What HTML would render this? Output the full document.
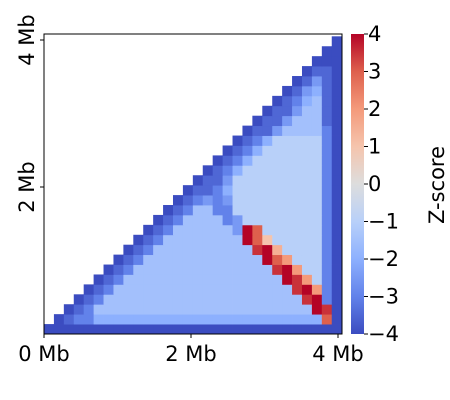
<!DOCTYPE html>
<html><head><meta charset="utf-8"><style>
html,body{margin:0;padding:0;background:#fff;}
svg{display:block;font-family:"DejaVu Sans","Liberation Sans",sans-serif;}
</style></head><body>
<svg id="chart" width="450" height="400" viewBox="0 0 450 400" xmlns="http://www.w3.org/2000/svg">
<defs>
<linearGradient id="cmap" x1="0" y1="1" x2="0" y2="0">
<stop offset="0" stop-color="rgb(59,76,192)"/><stop offset="0.125" stop-color="rgb(98,130,234)"/>
<stop offset="0.25" stop-color="rgb(141,176,254)"/><stop offset="0.375" stop-color="rgb(184,208,249)"/>
<stop offset="0.5" stop-color="rgb(221,221,221)"/><stop offset="0.625" stop-color="rgb(245,196,173)"/>
<stop offset="0.75" stop-color="rgb(244,154,123)"/><stop offset="0.875" stop-color="rgb(222,96,77)"/>
<stop offset="1" stop-color="rgb(180,4,38)"/>
</linearGradient>
</defs>
<g id="cells"></g>
<rect x="44" y="34" width="298" height="300" fill="none" stroke="#000" stroke-width="1"/>
<g id="axes"></g>
<rect x="351" y="34" width="13" height="300" fill="url(#cmap)"/>
<g id="cbar"></g>
<text x="438" y="185" font-size="21" text-anchor="middle" transform="rotate(-90 438 185)" dominant-baseline="middle">Z-score</text>
</svg>
<script>
// Z-score matrix, run-length encoded: row i = genomic y bin from bottom, runs cover columns j=i..29
// char index in alphabet -> value idx/2 - 4
const alphabet = "0123456789ABCDEFG";
const nBins = 30;
const binMb = 4.05 / 30;
const matrixRuns = [
[["0",30]],
[["0",1],["1",1],["2",2],["4",23],["E",1],["0",1]],
[["0",1],["1",1],["2",1],["5",22],["G",1],["F",1],["0",1]],
[["0",1],["1",1],["2",1],["5",20],["F",1],["G",1],["2",1],["0",1]],
[["0",1],["1",1],["2",1],["5",18],["F",1],["G",1],["C",1],["2",1],["0",1]],
[["0",1],["1",1],["2",1],["5",16],["G",1],["F",1],["C",1],["6",1],["2",1],["0",1]],
[["0",1],["1",1],["2",1],["5",14],["F",1],["G",1],["C",1],["6",2],["2",1],["0",1]],
[["0",1],["1",1],["2",1],["5",12],["G",1],["E",1],["C",1],["6",3],["2",1],["0",1]],
[["0",1],["1",1],["2",1],["5",10],["F",1],["G",1],["B",1],["6",4],["2",1],["0",1]],
[["0",1],["1",1],["2",1],["5",8],["G",1],["E",1],["A",1],["6",5],["2",1],["0",1]],
[["0",1],["1",1],["2",1],["5",6],["3",1],["G",1],["E",1],["6",6],["2",1],["0",1]],
[["0",1],["1",1],["2",1],["5",4],["2",1],["3",1],["6",8],["2",1],["0",1]],
[["0",1],["1",1],["2",1],["5",2],["2",2],["6",9],["2",1],["0",1]],
[["0",1],["1",1],["2",1],["3",1],["2",1],["3",1],["6",9],["2",1],["0",1]],
[["0",1],["1",2],["2",1],["4",1],["6",9],["2",1],["0",1]],
[["0",1],["1",2],["3",1],["6",9],["2",1],["0",1]],
[["0",1],["1",1],["2",1],["4",1],["6",8],["2",1],["0",1]],
[["0",1],["1",1],["2",1],["4",1],["6",7],["2",1],["0",1]],
[["0",1],["1",1],["2",1],["4",1],["6",6],["2",1],["0",1]],
[["0",1],["1",1],["2",1],["4",1],["6",5],["2",1],["0",1]],
[["0",1],["1",2],["3",1],["5",4],["2",1],["0",1]],
[["0",1],["1",2],["3",1],["5",3],["1",1],["0",1]],
[["0",1],["1",2],["3",1],["5",2],["1",1],["0",1]],
[["0",1],["1",1],["2",1],["4",1],["5",1],["1",1],["0",1]],
[["0",1],["1",1],["3",1],["4",1],["1",1],["0",1]],
[["0",1],["1",1],["3",1],["1",1],["0",1]],
[["0",1],["1",2],["0",1]],
[["0",3]],
[["0",2]],
[["0",1]]
];
const xTicks = [0, 2, 4];
const yTicks = [2, 4];
const xTickLabels = ["0 Mb", "2 Mb", "4 Mb"];
const yTickLabels = ["2 Mb", "4 Mb"];
const cbarTicks = [4, 3, 2, 1, 0, -1, -2, -3, -4];

const NS = "http://www.w3.org/2000/svg";
const x0 = 44, y0 = 334, pxPerMb = 73.5;
const xScale = mb => x0 + mb * pxPerMb;
const yScale = mb => y0 - mb * pxPerMb;
const zScale = z => 334 - (z + 4) / 8 * 300;
const stops = [[59,76,192],[98,130,234],[141,176,254],[184,208,249],[221,221,221],[245,196,173],[244,154,123],[222,96,77],[180,4,38]];
function color(z){
  let t = Math.max(0, Math.min(1, (z + 4) / 8)) * 8;
  let k = Math.min(7, Math.floor(t)), f = t - k;
  const a = stops[k], b = stops[k+1];
  return "rgb(" + a.map((v,m)=>Math.round(v + (b[m]-v)*f)).join(",") + ")";
}
const cells = document.getElementById("cells");
matrixRuns.forEach((runs, i) => {
  let j = i;
  runs.forEach(([ch, n]) => {
    for (let q = 0; q < n; q++, j++) {
      if (j >= nBins) return;
      const z = alphabet.indexOf(ch) / 2 - 4;
      const r = document.createElementNS(NS, "rect");
      const xa = xScale(j * binMb), xb = xScale((j + 1) * binMb);
      const ya = yScale((i + 1) * binMb), yb = yScale(i * binMb);
      r.setAttribute("x", xa.toFixed(2));
      r.setAttribute("y", ya.toFixed(2));
      r.setAttribute("width", (xb - xa + 0.4).toFixed(2));
      r.setAttribute("height", (yb - ya + 0.4).toFixed(2));
      r.setAttribute("fill", color(z));
      
      
      cells.appendChild(r);
    }
  });
});
const axes = document.getElementById("axes");
function add(tag, attrs, text){
  const e = document.createElementNS(NS, tag);
  for (const k in attrs) e.setAttribute(k, attrs[k]);
  if (text !== undefined) e.textContent = text;
  axes.appendChild(e); return e;
}
xTicks.forEach((v, k) => {
  const x = xScale(v);
  const t = add("line", {x1:x, x2:x, y1:334, y2:338, stroke:"#000"});
  
  
  const l = add("text", {x:x, y:361, "font-size":21, "text-anchor":"middle"}, xTickLabels[k]);
  
  
});
yTicks.forEach((v, k) => {
  const y = yScale(v);
  const t = add("line", {x1:40, x2:44, y1:y, y2:y, stroke:"#000"});
  
  
  const l = add("text", {x:28, y:y, "font-size":21, "text-anchor":"middle", transform:"rotate(-90 28 "+y+")", "dominant-baseline":"middle"}, yTickLabels[k]);
  
  
});
const cb = document.getElementById("cbar");
cbarTicks.forEach(v => {
  const y = zScale(v);
  const t = document.createElementNS(NS, "line");
  t.setAttribute("x1", 364); t.setAttribute("x2", 368);
  t.setAttribute("y1", y); t.setAttribute("y2", y); t.setAttribute("stroke", "#000");
  
  
  cb.appendChild(t);
  const l = document.createElementNS(NS, "text");
  l.setAttribute("x", 368); l.setAttribute("y", y + 7);
  l.setAttribute("font-size", 21);
  l.textContent = v < 0 ? "\u2212" + Math.abs(v) : String(v);
  
  
  cb.appendChild(l);
});
</script>
</body></html>
